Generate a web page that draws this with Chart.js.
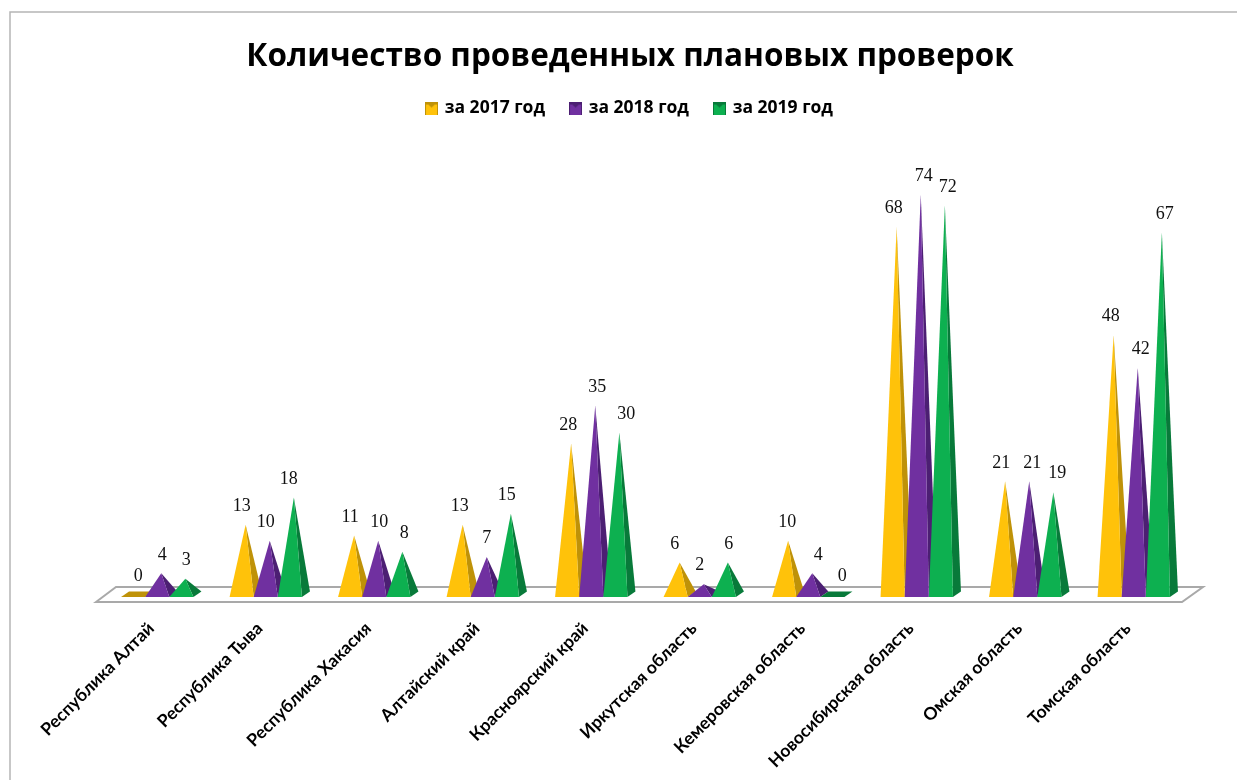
<!DOCTYPE html>
<html lang="ru">
<head>
<meta charset="utf-8">
<style>
html,body{margin:0;padding:0;background:#fff;}
#wrap{position:relative;width:1237px;height:780px;overflow:hidden;}
</style>
<script src="https://cdn.jsdelivr.net/npm/chart.js@4/dist/chart.umd.js"></script>
</head>
<body>
<div id="wrap"><canvas id="c" width="1237" height="780"></canvas></div>
<script>
const categories = ["Республика Алтай","Республика Тыва","Республика Хакасия","Алтайский край","Красноярский край","Иркутская область","Кемеровская область","Новосибирская область","Омская область","Томская область"];
const seriesNames = ["за 2017 год","за 2018 год","за 2019 год"];
const values2017 = [0,13,11,13,28,6,10,68,21,48];
const values2018 = [4,10,10,7,35,2,4,74,21,42];
const values2019 = [3,18,8,15,30,6,0,72,19,67];
const frontColors = ["#FFC20A","#7030A0","#0DB050"];
const sideColors = ["#BF9208","#4C1F73","#087A3A"];
// small horizontal nudges of the value labels, as placed in the original
const nudge2017 = [5,0,0,1,1,-1,3,1,0,1];
const nudge2018 = [5,0,5,4,6,0,10,7,7,7];
const nudge2019 = [5,-1,6,0,11,5,10,7,8,7];
const labelNudges = [nudge2017,nudge2018,nudge2019];

function marker(front, side){
  const m=document.createElement('canvas');m.width=13;m.height=13;
  const g=m.getContext('2d');
  g.fillStyle=side;g.fillRect(0,0,13,13);
  g.fillStyle=front;g.fillRect(1,3,11,10);
  g.fillStyle=side;g.beginPath();g.moveTo(0,0);g.lineTo(13,0);g.lineTo(6.5,6);g.closePath();g.fill();
  return m;
}
const markers=frontColors.map((c,i)=>marker(c,sideColors[i]));

function poly(ctx,pts,fill){
  ctx.fillStyle=fill;ctx.beginPath();
  pts.forEach((p,i)=>i?ctx.lineTo(p[0],p[1]):ctx.moveTo(p[0],p[1]));
  ctx.closePath();ctx.fill();
}

const pyramids={
  id:'pyramids',
  beforeDraw(chart){
    const ctx=chart.ctx;
    ctx.save();
    ctx.fillStyle='#fff';ctx.fillRect(0,0,chart.width,chart.height);
    ctx.strokeStyle='#B5B5B5';ctx.lineWidth=1.5;
    ctx.beginPath();ctx.moveTo(10,780);ctx.lineTo(10,12);ctx.lineTo(1237,12);ctx.stroke();
    ctx.restore();
  },
  beforeDatasetsDraw(chart){
    const ctx=chart.ctx, a=chart.chartArea, y0=chart.scales.y.getPixelForValue(0);
    ctx.save();
    // floor
    ctx.strokeStyle='#A9A9A9';ctx.lineWidth=2;ctx.fillStyle='#fff';
    ctx.beginPath();
    ctx.moveTo(a.left-7,y0+7);ctx.lineTo(a.left+13,y0-8);ctx.lineTo(a.right+15,y0-8);ctx.lineTo(a.right-6,y0+7);ctx.closePath();
    ctx.fill();ctx.stroke();
    // pyramids, first series underneath the next one
    const n=categories.length;
    for(let i=0;i<n;i++){
      chart.data.datasets.forEach((ds,d)=>{
        const el=chart.getDatasetMeta(d).data[i];
        const h=el.width/2, x=el.x;
        const fl=[x-h,y0+2],fr=[x+h,y0+2],br=[x+h+8,y0-3.5],bl=[x-h+8,y0-3.5];
        if(ds.data[i]===0){
          poly(ctx,[fl,fr,br,bl],sideColors[d]);
        }else{
          const apex=[x+4,el.y];
          poly(ctx,[fr,br,apex],sideColors[d]);
          poly(ctx,[fl,fr,apex],frontColors[d]);
        }
      });
    }
    // value labels
    ctx.fillStyle='#111';ctx.font='18px "Liberation Serif"';ctx.textAlign='center';ctx.textBaseline='middle';
    chart.data.datasets.forEach((ds,d)=>{
      chart.getDatasetMeta(d).data.forEach((el,i)=>{
        ctx.fillText(String(ds.data[i]),el.x+labelNudges[d][i],el.y-18.5);
      });
    });
    ctx.restore();
    return false;
  }
};

const seriesValues=[values2017,values2018,values2019];
new Chart(document.getElementById('c'),{
  type:'bar',
  data:{
    labels:categories,
    datasets:seriesNames.map((name,i)=>({label:name,data:seriesValues[i],backgroundColor:frontColors[i],categoryPercentage:0.667,barPercentage:1}))
  },
  options:{
    responsive:false,animation:false,
    layout:{padding:{left:23,right:0,top:0,bottom:0}},
    plugins:{
      tooltip:{enabled:false},
      title:{display:true,text:'Количество проведенных плановых проверок',color:'#000',
        font:{family:'"Open Sans"',size:31.5,weight:'700'},padding:{top:38,bottom:-2.5}},
      legend:{display:true,position:'top',
        labels:{color:'#000',font:{family:'"Open Sans"',size:17.5,weight:'700'},usePointStyle:true,pointStyleWidth:9,padding:26,
          generateLabels(chart){
            return seriesNames.map((t,i)=>({text:t,fillStyle:frontColors[i],strokeStyle:frontColors[i],lineWidth:0,pointStyle:markers[i],datasetIndex:i,fontColor:'#000'}));
          }}}
    },
    scales:{
      x:{grid:{display:false},border:{display:false},
        ticks:{color:'#000',font:{family:'Lato',size:17.5,weight:'700'},minRotation:45,maxRotation:45,padding:15,labelOffset:-6,autoSkip:false},
        afterFit(s){s.height=185;}},
      y:{min:0,max:86.5,display:true,grid:{display:false},border:{display:false},ticks:{display:false},afterFit(s){s.width=80;}},
      yPad:{type:'linear',position:'right',min:0,max:86.5,display:true,grid:{display:false},border:{display:false},ticks:{display:false},afterFit(s){s.width=49;}}
    }
  },
  plugins:[pyramids]
});
</script>
</body>
</html>
